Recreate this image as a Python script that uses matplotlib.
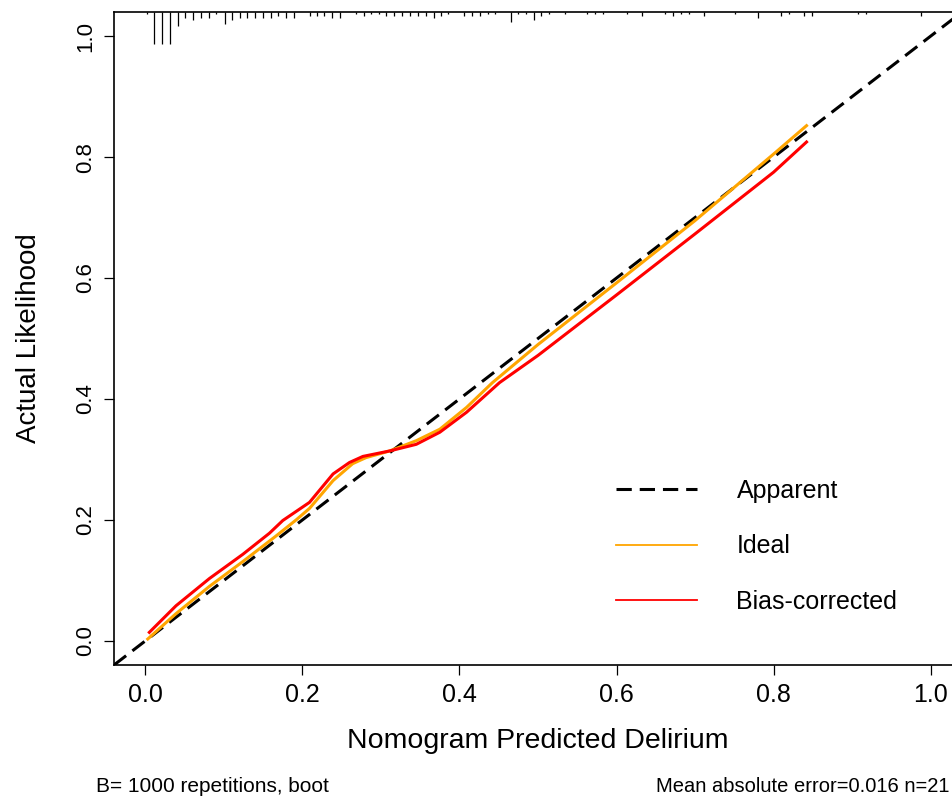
import matplotlib
matplotlib.use("Agg")
import matplotlib.pyplot as plt
from matplotlib.lines import Line2D
from matplotlib.transforms import blended_transform_factory

# Calibration curves (predicted probability vs observed proportion)
ideal_x = [0.003, 0.039, 0.0815, 0.124, 0.166, 0.192, 0.209, 0.239,
           0.264, 0.281, 0.311, 0.345, 0.375, 0.409, 0.442, 0.5, 0.6, 0.7, 0.8, 0.842]
ideal_y = [0.003, 0.045, 0.090, 0.131, 0.173, 0.200, 0.219, 0.265,
           0.293, 0.303, 0.314, 0.331, 0.350, 0.386, 0.427, 0.490, 0.592, 0.695, 0.805, 0.852]

bias_x = [0.005, 0.039, 0.0815, 0.124, 0.158, 0.175, 0.209, 0.239, 0.26,
          0.277, 0.311, 0.345, 0.375, 0.409, 0.451, 0.5, 0.6, 0.7, 0.8, 0.842]
bias_y = [0.014, 0.058, 0.103, 0.143, 0.178, 0.199, 0.229, 0.276, 0.295,
          0.305, 0.314, 0.325, 0.345, 0.378, 0.427, 0.472, 0.572, 0.673, 0.775, 0.825]

# Distribution of predicted risks (rug along the top)
rug_x = [0.002, 0.0115, 0.021, 0.031, 0.042, 0.051, 0.061, 0.071, 0.081, 0.090, 0.101,
         0.110, 0.120, 0.130, 0.140, 0.150, 0.160, 0.169, 0.179, 0.189, 0.209, 0.218,
         0.228, 0.238, 0.248, 0.268, 0.278, 0.2875, 0.297, 0.307, 0.317, 0.327, 0.337,
         0.347, 0.357, 0.367, 0.377, 0.386, 0.406, 0.416, 0.426, 0.436, 0.4455, 0.465,
         0.475, 0.485, 0.495, 0.504, 0.514, 0.534, 0.563, 0.573, 0.583, 0.613, 0.632,
         0.662, 0.672, 0.682, 0.692, 0.711, 0.751, 0.780, 0.810, 0.820, 0.839, 0.849,
         0.908, 0.918, 0.988]
rug_n = [1, 16, 16, 16, 7, 3, 4, 3, 3, 1, 6,
         4, 3, 3, 3, 3, 3, 2, 3, 3, 2, 2,
         2, 3, 3, 1, 2, 1, 1, 2, 2, 2, 2,
         2, 2, 3, 2, 1, 2, 2, 2, 1, 1, 5,
         1, 1, 4, 2, 1, 1, 1, 1, 1, 1, 2,
         1, 2, 1, 1, 2, 1, 3, 2, 1, 2, 2,
         1, 1, 2]

ticks = [0.0, 0.2, 0.4, 0.6, 0.8, 1.0]
tick_labels = ["0.0", "0.2", "0.4", "0.6", "0.8", "1.0"]

plt.rcParams["font.family"] = ["Liberation Sans", "DejaVu Sans"]

fig = plt.figure(figsize=(9.53, 8.0), dpi=100)
ax = fig.add_axes([114 / 953, 135 / 800, 848 / 953, 653 / 800])
ax.set_xlim(-0.04, 1.04)
ax.set_ylim(-0.04, 1.04)

dashes = (5.0, 2.6)
ax.axline((0, 0), slope=1, color="black", lw=2.2, dashes=dashes, zorder=2)
ax.plot(ideal_x, ideal_y, color="#FFA500", lw=2.2, zorder=3)
ax.plot(bias_x, bias_y, color="#FF0000", lw=2.2, zorder=4)

# rug of predicted values hanging from the top border
trans = blended_transform_factory(ax.transData, ax.transAxes)
unit = 2.0 / 653
ax.vlines(rug_x, [1 - n * unit for n in rug_n], 1, transform=trans,
          color="black", lw=0.9, zorder=5)

for side in ["left", "top", "bottom"]:
    ax.spines[side].set_linewidth(1.2)
ax.spines["right"].set_visible(False)

ax.set_xticks(ticks)
ax.set_xticklabels(tick_labels, fontsize=18)
ax.set_yticks(ticks)
ax.set_yticklabels(tick_labels, fontsize=16, rotation=90, va="center")
ax.tick_params(axis="both", direction="out", length=7, width=0.9, color="black")
ax.tick_params(axis="x", pad=6)
ax.tick_params(axis="y", pad=6)

ax.set_xlabel("Nomogram Predicted Delirium", fontsize=20.5, labelpad=15)
ax.set_ylabel("Actual Likelihood", fontsize=20, labelpad=24)

handles = [
    Line2D([], [], color="black", lw=2.2, dashes=dashes),
    Line2D([], [], color="#FFA500", lw=1.3),
    Line2D([], [], color="#FF0000", lw=1.3),
]
ax.legend(handles, ["Apparent", "Ideal", "Bias-corrected"], frameon=False,
          fontsize=18, loc="upper left", bbox_to_anchor=(0.566, 0.320),
          handlelength=3.24, handletextpad=1.56, labelspacing=1.27)

fig.text(96 / 953, 14 / 800, "B= 1000 repetitions, boot",
         fontsize=15, ha="left", va="center")
fig.text(950 / 953, 14 / 800, "Mean absolute error=0.016 n=21",
         fontsize=14.5, ha="right", va="center")

fig.savefig("out.png", dpi=100)
